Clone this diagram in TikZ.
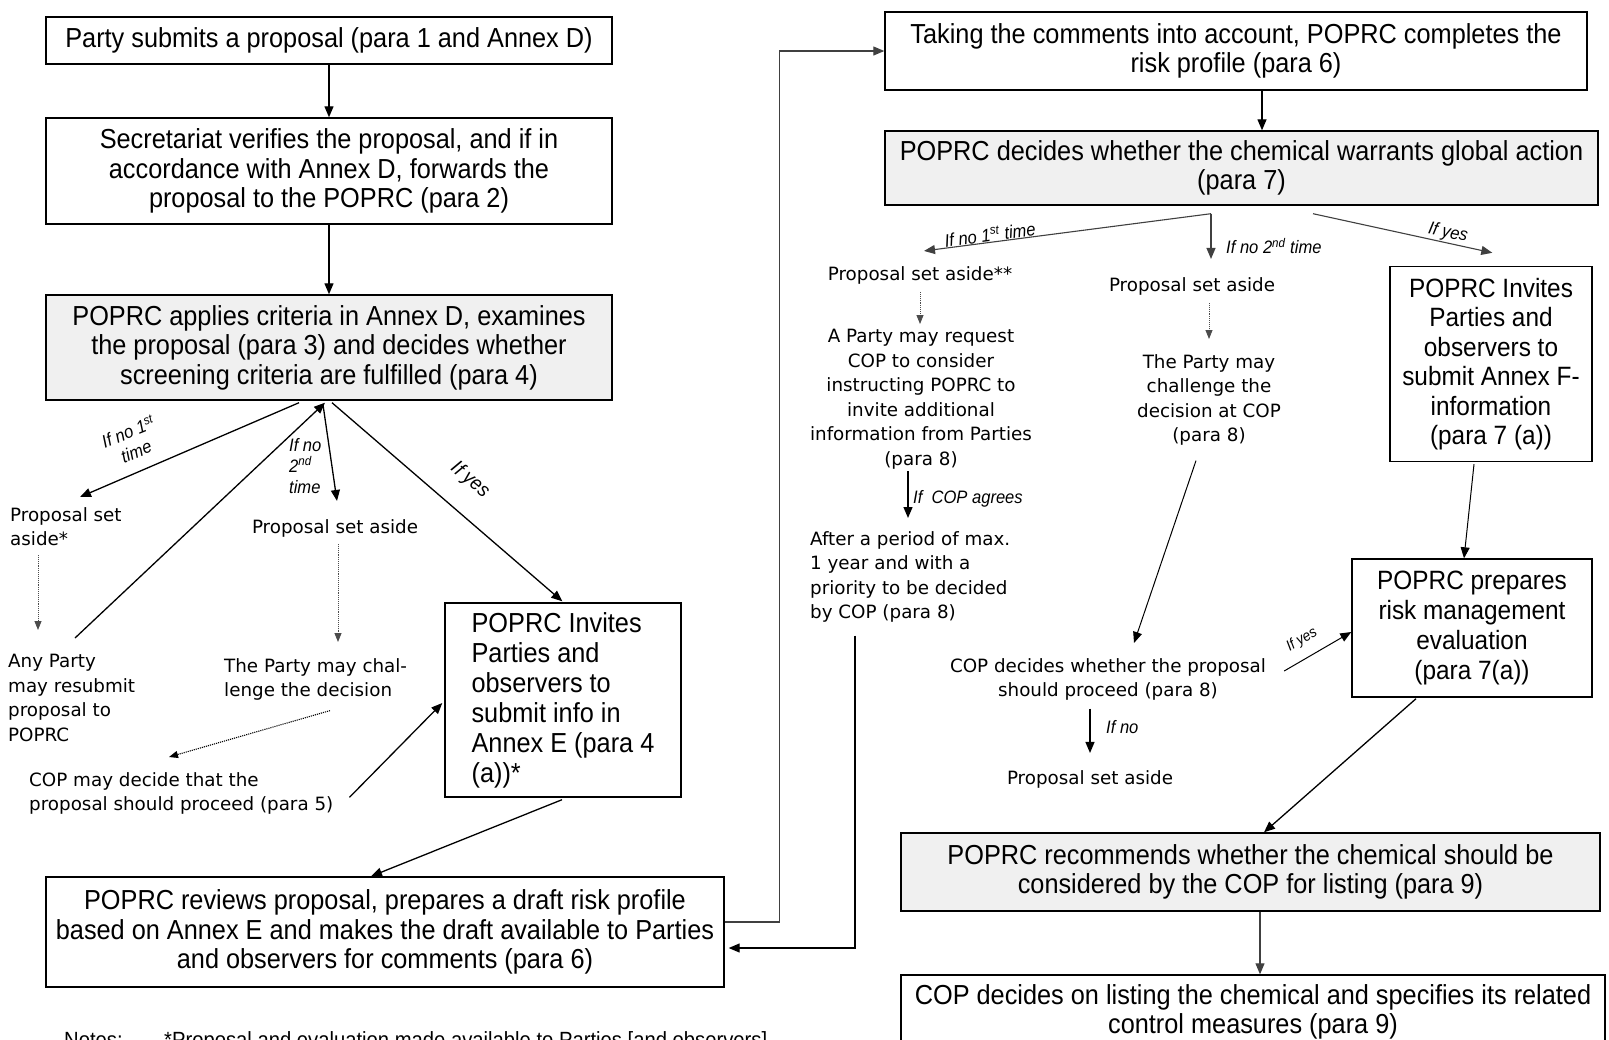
\documentclass[tikz,border=0pt]{standalone}
\usepackage{fontspec}
\setmainfont[FakeStretch=0.92]{Liberation Sans}
\newfontfamily\smallfont{DejaVu Sans}
\usetikzlibrary{arrows.meta,calc}
\definecolor{boxgray}{RGB}{240,240,240}
\tikzset{
  boxnode/.style={draw, line width=1.4pt, inner sep=0pt, align=center, font=\fontsize{27.5}{29.5}\selectfont},
  gbox/.style={boxnode, fill=boxgray},
  smalltxt/.style={inner sep=0pt, font=\smallfont\fontsize{18.3}{24.5}\selectfont},
  labtxt/.style={inner sep=0pt, font=\itshape\fontsize{18}{21}\selectfont},
  arr/.style={-{Triangle[length=11pt,width=9pt]}, line width=1.3pt},
  garr/.style={arr, black!75, line width=1.1pt},
  darr/.style={-{Triangle[length=9pt,width=7pt]}, densely dotted, line width=0.9pt, black!70},
  plainln/.style={line width=1.3pt}
}
\begin{document}
\begin{tikzpicture}[x=1pt,y=-1pt]
\useasboundingbox (0,0) rectangle (1609,1039);
\fill[white] (0,0) rectangle (1609,1039);
\begin{scope}
\clip (0,0) rectangle (1609,1039);
% ---------- left column boxes
\node[boxnode, minimum width=566pt, minimum height=47pt] (b1) at (329,40.5) {Party submits a proposal (para 1 and Annex D)};
\node[boxnode, minimum width=566pt, minimum height=106pt] (b2) at (329,171) {Secretariat verifies the proposal, and if in\\accordance with Annex D, forwards the\\proposal to the POPRC (para 2)};
\node[gbox, minimum width=566pt, minimum height=105pt] (b3) at (329,347.5) {POPRC applies criteria in Annex D, examines\\the proposal (para 3) and decides whether\\screening criteria are fulfilled (para 4)};
\node[boxnode, align=left, minimum width=236pt, minimum height=194pt, font=\fontsize{27.5}{30}\selectfont] (bE) at (563,700) {POPRC Invites\\Parties and\\observers to\\submit info in\\Annex E (para 4\\(a))*};
\node[boxnode, minimum width=678pt, minimum height=110pt] (draft) at (385,932) {POPRC reviews proposal, prepares a draft risk profile\\based on Annex E and makes the draft available to Parties\\and observers for comments (para 6)};
% ---------- right column boxes
\node[boxnode, minimum width=702pt, minimum height=78pt] (rtake) at (1236,51) {Taking the comments into account, POPRC completes the\\risk profile (para 6)};
\node[gbox, minimum width=713pt, minimum height=74pt] (rdec) at (1241.5,168) {POPRC decides whether the chemical warrants global action\\(para 7)};
\node[boxnode, minimum width=202pt, minimum height=195pt, font=\fontsize{26.5}{29.5}\selectfont] (rF) at (1491,364) {POPRC Invites\\Parties and\\observers to\\submit Annex F-\\information\\(para 7 (a))};
\node[boxnode, minimum width=240pt, minimum height=138pt, font=\fontsize{26.5}{30}\selectfont] (rprep) at (1472,628) {POPRC prepares\\risk management\\evaluation\\(para 7(a))};
\node[gbox, minimum width=699pt, minimum height=78pt] (rrec) at (1250.5,872) {POPRC recommends whether the chemical should be\\considered by the COP for listing (para 9)};
\node[boxnode, minimum width=704pt, minimum height=74pt] (rcop) at (1253,1012) {COP decides on listing the chemical and specifies its related\\control measures (para 9)};
% ---------- small texts left
\node[smalltxt, anchor=north west, align=left] (psa1) at (10,507) {Proposal set\\aside*};
\node[smalltxt, anchor=north west, align=left] (anyparty) at (8,654) {Any Party\\may resubmit\\proposal to\\POPRC};
\node[smalltxt] (psa2) at (335,528) {Proposal set aside};
\node[smalltxt, anchor=north west, align=left] (challenge) at (224,658) {The Party may chal-\\lenge the decision};
\node[smalltxt, anchor=north west, align=left] (copmay) at (29,772) {COP may decide that the\\proposal should proceed (para 5)};
% ---------- small texts right
\node[smalltxt] (rpsa1) at (920,275) {Proposal set aside**};
\node[smalltxt, anchor=north, align=center] (rreq) at (921,329) {A Party may request\\COP to consider\\instructing POPRC to\\invite additional\\information from Parties\\(para 8)};
\node[smalltxt, anchor=north west, align=left] (after) at (810,531) {After a period of max.\\1 year and with a\\priority to be decided\\by COP (para 8)};
\node[smalltxt] (rpsa2) at (1192,286) {Proposal set aside};
\node[smalltxt, anchor=north, align=center] (rchal) at (1209,354) {The Party may\\challenge the\\decision at COP\\(para 8)};
\node[smalltxt, anchor=north, align=center] (copdec) at (1108,658) {COP decides whether the proposal\\should proceed (para 8)};
\node[smalltxt] (rpsa3) at (1090,779) {Proposal set aside};
% ---------- labels
\node[labtxt, rotate=22, align=center] (l1) at (132,441) {If no 1\textsuperscript{st}\\time};
\node[labtxt, anchor=north west, align=left] (l2) at (289,438) {If no\\2\textsuperscript{nd}\\time};
\node[labtxt, rotate=-40, font=\itshape\fontsize{20}{22}\selectfont] (l3) at (470,480) {If yes};
\node[labtxt, rotate=7.7] (r1) at (990,234) {If no 1\textsuperscript{st} time};
\node[labtxt, anchor=west] (r2) at (1226,246) {If no 2\textsuperscript{nd} time};
\node[labtxt, rotate=-12] (r3) at (1448,233) {If yes};
\node[labtxt, anchor=west] (r4) at (913,499) {If\ \ COP agrees};
\node[labtxt, anchor=west] (r5) at (1106,727) {If no};
\node[labtxt, rotate=31, font=\itshape\fontsize{15}{17}\selectfont] (r6) at (1302,640) {If yes};
% ---------- notes
\node[anchor=base west, inner sep=0pt, font=\fontsize{22}{24}\selectfont] (notes1) at (64,1047) {Notes:};
\node[anchor=base west, inner sep=0pt, font=\fontsize{22}{24}\selectfont] (notes2) at (164,1047) {*Proposal and evaluation made available to Parties [and observers]};
% ---------- connectors left
\draw[arr] (b1.south) -- (b2.north);
\draw[arr] (b2.south) -- (b3.north);
\draw[arr] ($(b3.south)+(-30,2)$) -- ($(psa1.north west)+(70,-10)$);
\draw[darr] ($(psa1.south west)+(28,9)$) -- ($(anyparty.north west)+(30,-24)$);
\draw[arr] ($(anyparty.north west)+(67,-16)$) -- ($(b3.south)+(-4,2)$);
\draw[arr] ($(b3.south)+(-6,4)$) -- ($(psa2.north)+(2,-18)$);
\draw[darr] ($(psa2.south)+(3,7)$) -- ($(challenge.north west)+(114,-16)$);
\draw[arr] ($(b3.south)+(3,2)$) -- ($(bE.north west)+(118,-1)$);
\draw[darr, black, line width=1.1pt] ($(challenge.south west)+(106,10)$) -- ($(copmay.north west)+(140,-15)$);
\draw[arr] ($(copmay.east)+(16,4)$) -- ($(bE.west)+(-2,3)$);
\draw[arr] ($(bE.south)+(-1,2)$) -- ($(draft.north)+(-14,0)$);
% ---------- feedback paths
\draw[garr] ($(draft.east)+(0,-10)$) -- ++(55,0) |- (rtake.west);
\draw[arr] ($(after.south west)+(45,13)$) |- ($(draft.east)+(4,16)$);
% ---------- connectors right
\draw[arr] ($(rtake.south)+(26,0)$) -- ($(rdec.north)+(20.5,0)$);
\draw[garr] ($(rdec.south)+(-30.5,8)$) -- ($(rpsa1.north)+(4,-15)$);
\draw[garr] ($(rdec.south)+(-30.5,8)$) -- ($(rpsa2.north)+(19,-18)$);
\draw[garr] ($(rdec.south)+(71.5,8)$) -- ($(rF.north west)+(103,-13)$);
\draw[darr] ($(rpsa1.south)+(0,8)$) -- ($(rreq.north)+(-1,-5)$);
\draw[darr] ($(rpsa2.south)+(17,8)$) -- ($(rchal.north)+(0,-15)$);
\draw[arr] ($(rreq.south)+(-13,2)$) -- ($(after.north west)+(98,-13)$);
\draw[arr, line width=1pt] ($(rchal.south)+(-13,15)$) -- ($(copdec.north)+(26,-15)$);
\draw[arr, line width=1pt] ($(copdec.north east)+(18,13)$) -- ($(rprep.west)+(0,4)$);
\draw[arr] ($(copdec.south)+(-18,8)$) -- ($(rpsa3.north)+(0,-17)$);
\draw[arr, line width=1pt] ($(rF.south)+(-17,2)$) -- ($(rprep.north)+(-8,0)$);
\draw[arr] ($(rprep.south)+(-56,1)$) -- ($(rrec.north)+(13.5,0)$);
\draw[garr] ($(rrec.south)+(9.5,0)$) -- ($(rcop.north)+(7,0)$);
\end{scope}
\end{tikzpicture}
\end{document}
